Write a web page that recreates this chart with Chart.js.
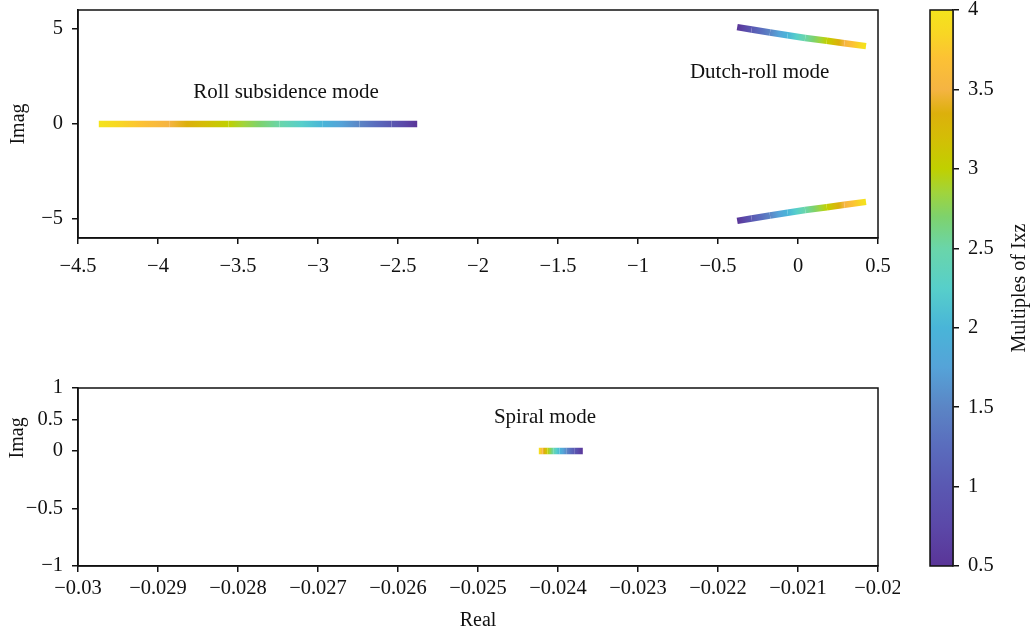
<!DOCTYPE html>
<html>
<head>
<meta charset="utf-8">
<script src="https://cdn.jsdelivr.net/npm/chart.js@4.4.0/dist/chart.umd.min.js"></script>
<style>
  html, body { margin: 0; padding: 0; background: #fff; }
  #wrap { position: relative; width: 1031px; height: 633px; }
  canvas { position: absolute; }
</style>
</head>
<body>
<div id="wrap">
  <canvas id="lateralChart" width="900" height="290" style="left:0;top:0"></canvas>
  <canvas id="spiralChart" width="900" height="333" style="left:0;top:300px"></canvas>
  <canvas id="colorBar" width="131" height="633" style="left:900px;top:0"></canvas>
</div>
<script>
// Ixz multiples swept along each root locus
const ixzMultiples = [0.5, 1, 1.5, 2, 2.5, 3, 3.5, 4];

// Roll subsidence root (real)
const rollReal = [-2.38, -2.54, -2.74, -2.97, -3.24, -3.56, -3.93, -4.37];
const rollImag = [0, 0, 0, 0, 0, 0, 0, 0];

// Dutch-roll root, upper branch of the complex pair
const dutchReal = [-0.38, -0.29, -0.175, -0.065, 0.045, 0.18, 0.29, 0.425];
const dutchImag = [5.1, 4.97, 4.82, 4.67, 4.53, 4.38, 4.25, 4.1];

// Spiral root (real)
const spiralReal = [-0.02369, -0.02379, -0.02389, -0.02398, -0.02406, -0.02413, -0.02419, -0.02424];
const spiralImag = [0, 0, 0, 0, 0, 0, 0, 0];

// Axis ticks
const topRealTicks = [-4.5, -4, -3.5, -3, -2.5, -2, -1.5, -1, -0.5, 0, 0.5];
const topImagTicks = [-5, 0, 5];
const spiralRealTicks = [-0.03, -0.029, -0.028, -0.027, -0.026, -0.025, -0.024, -0.023, -0.022, -0.021, -0.02];
const spiralImagTicks = [-1, -0.5, 0, 0.5, 1];
const colorBarTicks = [0.5, 1, 1.5, 2, 2.5, 3, 3.5, 4];

const FONT = 'Liberation Serif, Times New Roman, serif';
const INK = '#111';

// Colormap used for the Ixz scale
const CMAP = [
  [0.5, '#5a3598'], [0.75, '#5b48a8'], [1.0, '#5a58b2'], [1.25, '#5a6cbd'],
  [1.5, '#5b85c5'], [1.75, '#55a3d8'], [2.0, '#49b5d8'], [2.25, '#57cfca'],
  [2.5, '#6ad5a9'], [2.7, '#7ed26c'], [2.85, '#a0d43c'], [3.0, '#c0d000'],
  [3.2, '#d4bd06'], [3.35, '#dcb00c'], [3.5, '#f5b443'], [3.7, '#fcc234'],
  [3.85, '#f8d624'], [4.0, '#f4e41c']
];

// Linear axis whose zero sits at a chosen fraction of the height,
// each side of zero scaled on its own
class SplitLinearScale extends Chart.LinearScale {
  _splitFrac(value) {
    const split = this.options.split;
    if (value >= 0) return split * (this.max - value) / this.max;
    return split + (1 - split) * value / this.min;
  }
  getPixelForValue(value) {
    if (this.isHorizontal()) return super.getPixelForValue(value);
    return this.top + this._splitFrac(value) * this.height;
  }
  getValueForPixel(pixel) {
    if (this.isHorizontal()) return super.getValueForPixel(pixel);
    const f = (pixel - this.top) / this.height;
    const split = this.options.split;
    if (f <= split) return this.max * (1 - f / split);
    return this.min * (f - split) / (1 - split);
  }
}
SplitLinearScale.id = 'splitLinear';
SplitLinearScale.defaults = Chart.LinearScale.defaults;
Chart.register(SplitLinearScale);

function hexRgb(h) {
  return [1, 3, 5].map(i => parseInt(h.slice(i, i + 2), 16));
}

function ixzColor(v) {
  if (v <= CMAP[0][0]) return CMAP[0][1];
  for (let i = 1; i < CMAP.length; i++) {
    if (v <= CMAP[i][0]) {
      const [v0, c0] = CMAP[i - 1];
      const [v1, c1] = CMAP[i];
      const t = (v - v0) / (v1 - v0);
      const a = hexRgb(c0), b = hexRgb(c1);
      const rgb = a.map((x, k) => Math.round(x + (b[k] - x) * t));
      return `rgb(${rgb.join(',')})`;
    }
  }
  return CMAP[CMAP.length - 1][1];
}

// Colour each segment by the Ixz values at its two ends
function segmentGradient(ctx) {
  const { p0, p1 } = ctx;
  const g = ctx.chart.ctx.createLinearGradient(p0.x, p0.y, p1.x, p1.y);
  const v0 = ixzMultiples[ctx.p0DataIndex];
  const v1 = ixzMultiples[ctx.p1DataIndex];
  for (let i = 0; i <= 10; i++) {
    g.addColorStop(i / 10, ixzColor(v0 + (v1 - v0) * i / 10));
  }
  return g;
}

function points(xs, ys) {
  return xs.map((x, i) => ({ x: x, y: ys[i] }));
}

function locus(xs, ys) {
  return {
    data: points(xs, ys),
    showLine: true,
    pointRadius: 0,
    borderWidth: 6.5,
    borderCapStyle: 'butt',
    borderJoinStyle: 'round',
    segment: {
      borderColor: segmentGradient,
      borderDashOffset: ctx => ctx.p0DataIndex // keeps segments from being merged
    }
  };
}

function fmt(v) {
  return String(v).replace('-', '\u2212');
}

function fixedTicks(values) {
  return scale => { scale.ticks = values.map(v => ({ value: v })); };
}

// Fixed axis size, no extra room for labels hanging past the ends
function fitTo(prop, size) {
  return s => {
    s.paddingLeft = s.paddingRight = s.paddingTop = s.paddingBottom = 0;
    s[prop] = size;
  };
}

function axis(min, max, ticks, extra, pad) {
  return Object.assign({
    type: 'linear',
    min: min,
    max: max,
    afterBuildTicks: fixedTicks(ticks),
    border: { display: true, color: INK, width: 1.5 },
    grid: { drawOnChartArea: false, drawTicks: true, tickLength: 6, color: INK, lineWidth: 1.5 },
    ticks: {
      autoSkip: false, maxRotation: 0, color: INK, padding: pad,
      font: { family: FONT, size: 20.5 },
      callback: v => fmt(v)
    }
  }, extra);
}

const framePlugin = {
  id: 'frame',
  afterDraw(chart) {
    const { ctx, chartArea: a } = chart;
    ctx.save();
    ctx.strokeStyle = INK;
    ctx.lineWidth = 1.5;
    ctx.strokeRect(a.left, a.top, a.right - a.left, a.bottom - a.top);
    ctx.restore();
  }
};

function labelPlugin(labels) {
  return {
    id: 'modeLabels',
    afterDatasetsDraw(chart) {
      const { ctx, scales } = chart;
      ctx.save();
      ctx.fillStyle = INK;
      ctx.font = `21px ${FONT}`;
      ctx.textAlign = 'center';
      ctx.textBaseline = 'middle';
      labels.forEach(l => {
        ctx.fillText(l.text, scales.x.getPixelForValue(l.x), scales.y.getPixelForValue(l.y));
      });
      ctx.restore();
    }
  };
}

// Rotated y title placed at a fraction of the plot height
function sideTitle(text, x, frac) {
  return {
    id: 'sideTitle',
    afterDraw(chart) {
      const { ctx, chartArea: a } = chart;
      ctx.save();
      ctx.fillStyle = INK;
      ctx.font = `20px ${FONT}`;
      ctx.textAlign = 'center';
      ctx.textBaseline = 'middle';
      ctx.translate(x, a.top + frac * (a.bottom - a.top));
      ctx.rotate(-Math.PI / 2);
      ctx.fillText(text, 0, 0);
      ctx.restore();
    }
  };
}

const base = {
  responsive: false,
  animation: false,
  events: [],
  plugins: { legend: { display: false }, tooltip: { enabled: false } }
};

const imagTitle = { display: true, text: 'Imag', color: INK, font: { family: FONT, size: 20 }, padding: { top: 7 } };

// Roll subsidence and Dutch-roll loci
new Chart(document.getElementById('lateralChart'), {
  type: 'scatter',
  data: {
    datasets: [
      locus(rollReal, rollImag),
      locus(dutchReal, dutchImag),
      locus(dutchReal, dutchImag.map(v => -v))
    ]
  },
  options: Object.assign({}, base, {
    layout: { padding: { top: 10, right: 22, left: 0, bottom: 0 } },
    scales: {
      x: axis(-4.5, 0.5, topRealTicks, { afterFit: fitTo('height', 52) }, 10),
      y: axis(-6, 6, topImagTicks, { title: imagTitle, afterFit: fitTo('width', 78) }, 9)
    }
  }),
  plugins: [framePlugin, labelPlugin([
    { text: 'Roll subsidence mode', x: -3.2, y: 1.65 },
    { text: 'Dutch-roll mode', x: -0.24, y: 2.7 }
  ])]
});

// Spiral locus
new Chart(document.getElementById('spiralChart'), {
  type: 'scatter',
  data: { datasets: [locus(spiralReal, spiralImag)] },
  options: Object.assign({}, base, {
    layout: { padding: { top: 88, right: 22, left: 0, bottom: 0 } },
    scales: {
      x: axis(-0.03, -0.02, spiralRealTicks, {
        title: { display: true, text: 'Real', color: INK, font: { family: FONT, size: 20 }, padding: { bottom: 0 } },
        afterFit: fitTo('height', 67)
      }, 4),
      y: axis(-1, 1, spiralImagTicks, {
        type: 'splitLinear',
        split: 0.354,
        afterFit: fitTo('width', 78)
      }, 9)
    }
  }),
  plugins: [framePlugin, sideTitle('Imag', 18, 0.28), labelPlugin([
    { text: 'Spiral mode', x: -0.024163, y: 0.53 }
  ])]
});

// Colour bar for the Ixz multiples
const colorFill = {
  id: 'colorFill',
  beforeDatasetsDraw(chart) {
    const { ctx, chartArea: a } = chart;
    const g = ctx.createLinearGradient(0, a.bottom, 0, a.top);
    CMAP.forEach(([v, c]) => g.addColorStop((v - 0.5) / 3.5, c));
    ctx.save();
    ctx.fillStyle = g;
    ctx.fillRect(a.left, a.top, a.right - a.left, a.bottom - a.top);
    ctx.fillStyle = INK;
    ctx.font = `20px ${FONT}`;
    ctx.textAlign = 'center';
    ctx.textBaseline = 'middle';
    ctx.translate(120, (a.top + a.bottom) / 2);
    ctx.rotate(-Math.PI / 2);
    ctx.fillText('Multiples of Ixz', 0, 0);
    ctx.restore();
  }
};

new Chart(document.getElementById('colorBar'), {
  type: 'scatter',
  data: { datasets: [{ data: [] }] },
  options: Object.assign({}, base, {
    layout: { padding: { top: 10, right: 0, left: 30, bottom: 67 } },
    scales: {
      x: { display: false, min: 0, max: 1 },
      y: axis(0.5, 4, colorBarTicks, { position: 'right', afterFit: fitTo('width', 78) }, 9)
    }
  }),
  plugins: [colorFill, framePlugin]
});
</script>
</body>
</html>
